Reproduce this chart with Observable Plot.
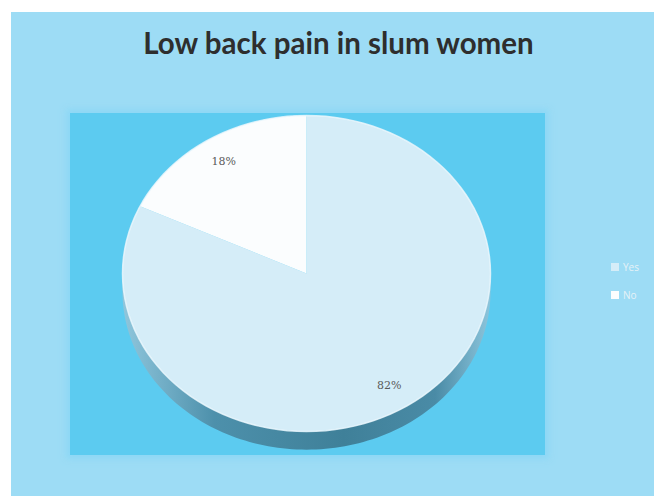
<!DOCTYPE html>
<html>
<head>
<meta charset="utf-8">
<script src="https://cdn.jsdelivr.net/npm/d3@7"></script>
<script src="https://cdn.jsdelivr.net/npm/@observablehq/plot@0.6"></script>
<style>
  html, body { margin: 0; padding: 0; background: #ffffff; }
  #fig { position: relative; width: 654px; height: 496px; overflow: hidden; }
  #outer { position: absolute; left: 11px; top: 12px; width: 643px; height: 484px; background: #9ddcf5; }
  #inner { position: absolute; left: 70px; top: 113px; width: 475px; height: 342px; background: #5ccbf0;
           box-shadow: 0 0 6px 4px rgba(140,215,245,0.9); }
  #title { position: absolute; left: 17px; width: 643px; top: 25px; text-align: center;
           font-family: Lato, "Open Sans", sans-serif; font-weight: 700; font-size: 29.5px; color: #2e2e2e;
           letter-spacing: 0px; }
  #chart { position: absolute; left: 0; top: 0; }
  #legend { position: absolute; left: 611px; top: 260px; font-family: "Open Sans", sans-serif; font-size: 10px; color: #e6f2f7; }
  #legend div { height: 14px; line-height: 14px; margin-bottom: 14px; display: flex; align-items: center; }
  #legend span.sw { display: inline-block; width: 8px; height: 8px; margin-right: 4px; }
</style>
</head>
<body>
<div id="fig">
  <div id="outer"></div>
  <div id="inner"></div>
  <div id="title">Low back pain in slum women</div>
  <div id="chart"></div>
  <div id="legend"></div>
</div>
<script>
// ---- data ----
const categories = ["Yes", "No"];
const values = [82, 18];
const labels = ["82%", "18%"];
const colors = ["#d5edf8", "#fbfdfe"];

// pie geometry (data units: unit circle, drawn as an ellipse by the x/y scales)
const depth = 0.115;
const arcs = d3.pie().sort(null).value(d => d)(values);

function arcPoints(a0, a1, n = 120) {
  const pts = [];
  for (let i = 0; i <= n; i++) {
    const a = a0 + (a1 - a0) * i / n;
    pts.push([Math.sin(a), Math.cos(a)]);
  }
  return pts;
}

const sliceRows = [];
arcs.forEach((arc, i) => {
  sliceRows.push({k: categories[i], x: 0, y: 0});
  for (const [x, y] of arcPoints(arc.startAngle, arc.endAngle)) sliceRows.push({k: categories[i], x, y});
});

// visible side (front half of the rim)
const sideRows = [];
for (const [x, y] of arcPoints(Math.PI / 2, 3 * Math.PI / 2)) sideRows.push({x, y});
for (const [x, y] of arcPoints(3 * Math.PI / 2, Math.PI / 2)) sideRows.push({x, y: y - depth});

const labelRows = arcs.map((arc, i) => {
  const m = (arc.startAngle + arc.endAngle) / 2;
  return {x: 0.84 * Math.sin(m), y: 0.84 * Math.cos(m), t: labels[i]};
});

const plot = Plot.plot({
  width: 654,
  height: 496,
  margin: 0,
  style: {background: "transparent", overflow: "visible"},
  x: {domain: [-1, 1], range: [122, 490], axis: null},
  y: {domain: [-1, 1], range: [431, 115], axis: null},
  marks: [
    Plot.line(sideRows, {x: "x", y: "y", fill: "url(#sideGrad)", stroke: "none", curve: "linear"}),
    ...categories.map((c, i) =>
      Plot.line(sliceRows.filter(d => d.k === c), {x: "x", y: "y", fill: colors[i], stroke: "none"})
    ),
    Plot.line(arcPoints(0, 2 * Math.PI).map(([x, y]) => ({x, y})), {x: "x", y: "y", stroke: "#eef8fc", strokeWidth: 1.5, strokeOpacity: 0.8}),
    Plot.text(labelRows, {x: "x", y: "y", text: "t", fill: "#5a5a5a", fontSize: 11, fontFamily: "DejaVu Serif, serif"})
  ]
});

// gradient for the rim
const ns = "http://www.w3.org/2000/svg";
const defs = document.createElementNS(ns, "defs");
defs.innerHTML = `
  <linearGradient id="sideGrad" x1="0" x2="1" y1="0" y2="0">
    <stop offset="0" stop-color="#8fc6dc"/>
    <stop offset="0.25" stop-color="#4d90ab"/>
    <stop offset="0.6" stop-color="#3f8099"/>
    <stop offset="0.85" stop-color="#4a8ba6"/>
    <stop offset="1" stop-color="#8cc5dc"/>
  </linearGradient>`;
plot.insertBefore(defs, plot.firstChild);
document.getElementById("chart").appendChild(plot);

// legend
const leg = document.getElementById("legend");
categories.forEach((c, i) => {
  const row = document.createElement("div");
  row.innerHTML = `<span class="sw" style="background:${colors[i]}"></span>${c}`;
  leg.appendChild(row);
});
</script>
</body>
</html>
